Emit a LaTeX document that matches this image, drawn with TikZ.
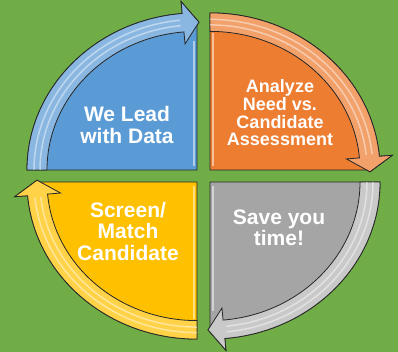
\documentclass[tikz,border=0pt]{standalone}
\usepackage{fontspec}
\setmainfont{Liberation Sans}

\definecolor{bggreen}{HTML}{70AD47}
\definecolor{blueq}{HTML}{5B9BD5}
\definecolor{orangeq}{HTML}{ED7D31}
\definecolor{grayq}{HTML}{A5A5A5}
\definecolor{yellowq}{HTML}{FFC000}

\begin{document}
\begin{tikzpicture}[x=1pt, y=1pt,
    quadtext/.style={text=white, align=center, font=\bfseries\fontsize{21}{21.5}\selectfont},
    smalltext/.style={quadtext, font=\bfseries\fontsize{18}{17.7}\selectfont},
    quadline/.style={draw=black!85, line width=0.8pt},
    gloss/.style={white, opacity=0.45, line width=1.5pt},
    edgelight/.style={white, opacity=0.5, line width=1.5pt}]

    \useasboundingbox (0,0) rectangle (398,352);
    \fill[bggreen] (0,0) rectangle (398,352);

    \begin{scope}[shift={(203.5,176)}, yscale=0.924]
    % top left
    \begin{scope}[shift={(-6.5,6.5)}]
        \filldraw[quadline, fill=blueq] (0,0) -- (180:170) arc[start angle=180, end angle=95, radius=170] -- (95:183) -- (89.3:160) -- (90:156.7) -- cycle;
        \filldraw[quadline, fill=blueq!72!white] (180:150) -- (180:170) arc[start angle=180, end angle=95, radius=170] -- (95:183) -- (89.3:160) -- (95:137) -- (95:150) arc[start angle=95, end angle=180, radius=150] -- cycle;
        \draw[gloss] (180:157) arc[start angle=180, end angle=96, radius=157];
        \draw[gloss] (180:163) arc[start angle=180, end angle=96, radius=163];
        \draw[edgelight] (-3,4) -- (-3,140);
    \end{scope}
    % top right
    \begin{scope}[shift={(6.5,6.5)}]
        \filldraw[quadline, fill=orangeq] (0,0) -- (90:170) arc[start angle=90, end angle=5, radius=170] -- (5:183) -- (-0.7:160) -- (0:156.7) -- cycle;
        \filldraw[quadline, fill=orangeq!72!white] (90:150) -- (90:170) arc[start angle=90, end angle=5, radius=170] -- (5:183) -- (-0.7:160) -- (5:137) -- (5:150) arc[start angle=5, end angle=90, radius=150] -- cycle;
        \draw[gloss] (90:157) arc[start angle=90, end angle=6, radius=157];
        \draw[gloss] (90:163) arc[start angle=90, end angle=6, radius=163];
        \draw[edgelight] (3,4) -- (3,148);
    \end{scope}
    % bottom right
    \begin{scope}[shift={(6.5,-6.5)}]
        \filldraw[quadline, fill=grayq] (0,0) -- (0:170) arc[start angle=0, end angle=-85, radius=170] -- (-85:183) -- (-90.7:160) -- (-90:156.7) -- cycle;
        \filldraw[quadline, fill=grayq!60!white] (0:150) -- (0:170) arc[start angle=0, end angle=-85, radius=170] -- (-85:183) -- (-90.7:160) -- (-85:137) -- (-85:150) arc[start angle=-85, end angle=0, radius=150] -- cycle;
        \draw[gloss] (0:157) arc[start angle=0, end angle=-84, radius=157];
        \draw[gloss] (0:163) arc[start angle=0, end angle=-84, radius=163];
        \draw[edgelight] (3,-4) -- (3,-140);
    \end{scope}
    % bottom left
    \begin{scope}[shift={(-6.5,-6.5)}]
        \filldraw[quadline, fill=yellowq] (0,0) -- (-90:170) arc[start angle=-90, end angle=-175, radius=170] -- (-175:183) -- (-180.7:160) -- (-180:156.7) -- cycle;
        \filldraw[quadline, fill=yellowq!72!white] (-90:150) -- (-90:170) arc[start angle=-90, end angle=-175, radius=170] -- (-175:183) -- (-180.7:160) -- (-175:137) -- (-175:150) arc[start angle=-175, end angle=-90, radius=150] -- cycle;
        \draw[gloss] (-90:157) arc[start angle=-90, end angle=-174, radius=157];
        \draw[gloss] (-90:163) arc[start angle=-90, end angle=-174, radius=163];
        \draw[edgelight] (-3,-4) -- (-3,-148);
    \end{scope}
    \end{scope}

    \node[quadtext] (leadtext) at (127,227) {We Lead\\with Data};
    \node[smalltext] (analyzetext) at (280,239) {Analyze\\Need vs.\\Candidate\\Assessment};
    \node[quadtext] (savetext) at (279,124) {Save you\\time!};
    \node[quadtext] (screentext) at (128,121) {Screen/\\Match\\Candidate};

\end{tikzpicture}
\end{document}
